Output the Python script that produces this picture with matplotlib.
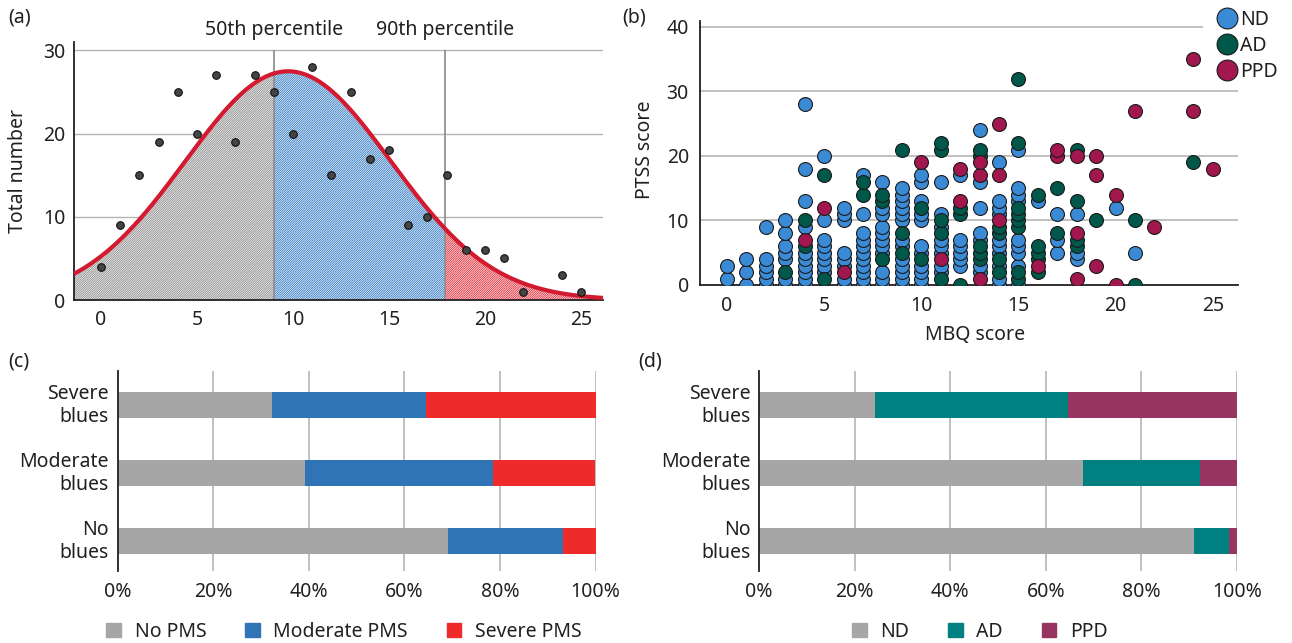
import numpy as np
import matplotlib
matplotlib.use('Agg')
import matplotlib.pyplot as plt
from matplotlib.patches import Patch
from matplotlib.lines import Line2D

plt.rcParams['font.family'] = ['Noto Sans', 'DejaVu Sans']
plt.rcParams['font.size'] = 14
plt.rcParams['text.color'] = '#231f20'
plt.rcParams['xtick.color'] = '#231f20'
plt.rcParams['ytick.color'] = '#231f20'
plt.rcParams['hatch.linewidth'] = 0.65

# (a) MBQ score distribution
scores = [0, 1, 2, 3, 4, 5, 6, 7, 8, 9, 10, 11, 12, 13, 14, 15, 16, 17, 18, 19, 20, 21, 22, 24, 25]
counts = [4, 9, 15, 19, 25, 20, 27, 19, 27, 25, 20, 28, 15, 25, 17, 18, 9, 10, 15, 6, 6, 5, 1, 3, 1]
p50 = 9.0
p90 = 17.9

# (b) PTSS vs MBQ, points per MBQ score
nd_cols = {0: [1, 3], 1: [0, 2, 4], 2: [0, 1, 2, 3, 4, 9], 3: [0, 1, 4, 5, 6, 8, 10],
           4: [0, 1, 2, 3, 4, 5, 9, 13, 18, 28], 5: [2, 3, 4, 5, 6, 7, 10, 20],
           6: [0, 1, 3, 4, 5, 10, 11, 12], 7: [0, 1, 2, 3, 4, 5, 6, 7, 8, 11, 17],
           8: [0, 1, 2, 5, 6, 7, 8, 9, 11, 12, 16], 9: [0, 1, 2, 3, 4, 6, 7, 10, 11, 12, 13, 14, 15],
           10: [0, 1, 2, 3, 5, 6, 10, 11, 13, 16, 17], 11: [2, 3, 5, 6, 7, 9, 11, 16],
           12: [3, 4, 5, 6, 7, 17], 13: [2, 3, 7, 8, 12, 16, 24],
           14: [0, 1, 3, 5, 6, 7, 11, 12, 13, 19], 15: [0, 3, 5, 6, 7, 13, 14, 15, 21],
           16: [13], 17: [5, 7, 11], 18: [4, 5, 11], 20: [12], 21: [5]}
ad_cols = {3: [2], 4: [6, 10], 5: [1, 17], 7: [14, 16], 8: [4, 13, 14], 9: [5, 8, 21],
           10: [4, 12], 11: [1, 8, 10, 21, 22], 12: [0, 11, 12], 13: [4, 5, 6, 20, 21],
           14: [2, 4, 8, 9], 15: [1, 2, 9, 10, 11, 12, 22, 32], 16: [2, 4, 5, 6, 14],
           17: [8, 15], 18: [6, 7, 13, 21], 19: [10], 21: [0, 10], 24: [19]}
ppd_cols = {4: [7], 5: [12], 6: [2], 10: [19], 11: [4], 12: [13, 18], 13: [1, 17, 19],
            14: [10, 17, 25], 16: [3], 17: [20, 21], 18: [1, 8, 20], 19: [3, 17, 20],
            20: [0, 14], 21: [27], 22: [9], 24: [27, 35], 25: [18]}

# (c) and (d) stacked percentages, order: No blues, Moderate blues, Severe blues
blues_cats = ['No\nblues', 'Moderate\nblues', 'Severe\nblues']
pms_none = [69.1, 39.3, 32.3]
pms_moderate = [24.2, 39.3, 32.3]
pms_severe = [6.7, 21.4, 35.4]
dep_nd = [90.9, 67.7, 24.2]
dep_ad = [7.4, 24.6, 40.5]
dep_ppd = [1.7, 7.7, 35.3]

W, H = 1292, 643
fig = plt.figure(figsize=(W / 100, H / 100), dpi=100)

def box(l, t, r, b):
    return [l / W, 1 - b / H, (r - l) / W, (b - t) / H]

grid_c = '#b5b5b5'
spine_c = '#231f20'

def style(ax):
    for s in ['top', 'right']:
        ax.spines[s].set_visible(False)
    for s in ['left', 'bottom']:
        ax.spines[s].set_color(spine_c)
        ax.spines[s].set_linewidth(1.3)
    ax.tick_params(length=0)

# ---- (a)
ax = fig.add_axes(box(74, 42, 603, 300))
style(ax)
xmin, xmax = -1.41, 26.15
ax.set_xlim(xmin, xmax)
ax.set_ylim(0, 31)
sc = np.array(scores, float)
ct = np.array(counts, float)
n = ct.sum()
mu = (sc * ct).sum() / n
sd = np.sqrt((ct * (sc - mu) ** 2).sum() / n)

def fit(x):
    return n / (sd * np.sqrt(2 * np.pi)) * np.exp(-(x - mu) ** 2 / (2 * sd ** 2))

for y in [10, 20, 30]:
    ax.axhline(y, color=grid_c, lw=1, zorder=0)
for lo, hi, c in [(xmin, p50, '#8e8e8e'), (p50, p90, '#3a7fc6'), (p90, xmax, '#e3303c')]:
    xs = np.linspace(lo, hi, 200)
    ax.fill_between(xs, 0, fit(xs), facecolor='white', edgecolor=c, hatch='/' * 15,
                    linewidth=0, zorder=1)
ax.vlines([p50, p90], 0, 30, color='#8a8a8a', lw=1.2, zorder=2)
xs = np.linspace(xmin, xmax, 400)
ax.plot(xs, fit(xs), color='#d41a30', lw=3, zorder=3, solid_capstyle='butt')
ax.scatter(scores, counts, s=30, color='#454545', edgecolor='#111111', lw=0.8, zorder=4)
ax.set_xticks([0, 5, 10, 15, 20, 25])
ax.set_yticks([0, 10, 20, 30])
ax.tick_params(axis='x', pad=7)
ax.tick_params(axis='y', pad=6)
ax.text(p50, 32.4, '50th percentile', ha='center', va='center', clip_on=False)
ax.text(p90, 32.4, '90th percentile', ha='center', va='center', clip_on=False)
fig.text(18 / W, 1 - 171 / H, 'Total number', rotation=90, ha='center', va='center')

# ---- (b)
ax = fig.add_axes(box(700, 20.5, 1238, 285))
style(ax)
ax.set_xlim(-1.39, 26.3)
ax.set_ylim(0, 41)
for y in [10, 20, 30]:
    ax.axhline(y, color=grid_c, lw=1.2, zorder=0)
ax.hlines(40, -1.39, 24.5, color=grid_c, lw=1.2, zorder=0)
groups = [('ND', nd_cols, '#3b8ad6'), ('AD', ad_cols, '#00584a'), ('PPD', ppd_cols, '#a3174f')]
for name, cols, c in groups:
    px = [k for k, v in cols.items() for _ in v]
    py = [y for k, v in cols.items() for y in v]
    ax.scatter(px, py, s=100, color=c, edgecolor='#1a1a1a', lw=0.8, zorder=3)
ax.set_xticks([0, 5, 10, 15, 20, 25])
ax.set_yticks([0, 10, 20, 30, 40])
ax.tick_params(axis='x', pad=8)
ax.tick_params(axis='y', pad=8)
fig.text(645 / W, 1 - 150 / H, 'PTSS score', rotation=90, ha='center', va='center')
fig.text(975 / W, 1 - 335 / H, 'MBQ score', ha='center', va='center')
handles = [Line2D([], [], ls='none', marker='o', ms=15, mfc=c, mec='#1a1a1a', mew=0.8)
           for _, _, c in groups]
fig.legend(handles, [g[0] for g in groups], loc='upper left', bbox_to_anchor=(1218 / W, 1 - 10 / H),
           frameon=False, handlelength=0.9, handletextpad=0.25, labelspacing=0.3,
           borderpad=0, borderaxespad=0)

# ---- (c) and (d)
def stacked(ax, parts, colors):
    style(ax)
    ax.spines['bottom'].set_visible(False)
    ax.set_xlim(0, 100)
    ax.set_ylim(-0.44, 2.5)
    for xv in range(20, 101, 20):
        ax.axvline(xv, color=grid_c, lw=1.2, zorder=0)
    left = np.zeros(3)
    ypos = np.arange(3)
    for vals, c in zip(parts, colors):
        ax.barh(ypos, vals, left=left, height=0.37, color=c, zorder=2)
        left += np.array(vals)
    ax.set_xticks(range(0, 101, 20))
    ax.set_xticklabels([f'{v}%' for v in range(0, 101, 20)])
    ax.set_yticks(ypos, labels=[])
    for yv, lbl in zip(ypos, blues_cats):
        ax.text(-0.018, yv, lbl, transform=ax.get_yaxis_transform(), ha='right',
                va='center', multialignment='right')
    ax.tick_params(axis='x', pad=8)

ax = fig.add_axes(box(117.5, 371, 595.5, 571))
c_colors = ['#a6a6a6', '#2f75b5', '#ee2a2a']
stacked(ax, [pms_none, pms_moderate, pms_severe], c_colors)
fig.legend([Patch(color=c) for c in c_colors], ['No PMS', 'Moderate PMS', 'Severe PMS'],
           loc='center', bbox_to_anchor=(344 / W, 1 - 632 / H), ncol=3, frameon=False,
           handlelength=0.75, handleheight=0.75, handletextpad=0.7, columnspacing=2.0,
           borderpad=0, borderaxespad=0)

ax = fig.add_axes(box(759, 371, 1237, 571))
d_colors = ['#a6a6a6', '#008080', '#983462']
stacked(ax, [dep_nd, dep_ad, dep_ppd], d_colors)
fig.legend([Patch(color=c) for c in d_colors], ['ND', 'AD', 'PPD'],
           loc='center', bbox_to_anchor=(980 / W, 1 - 632 / H), ncol=3, frameon=False,
           handlelength=0.75, handleheight=0.75, handletextpad=0.7, columnspacing=2.0,
           borderpad=0, borderaxespad=0)

for label, x, y in [('(a)', 8, 18), ('(b)', 622, 18), ('(c)', 8, 362), ('(d)', 638, 362)]:
    fig.text(x / W, 1 - y / H, label, ha='left', va='center')

fig.savefig('out.png', dpi=100)
